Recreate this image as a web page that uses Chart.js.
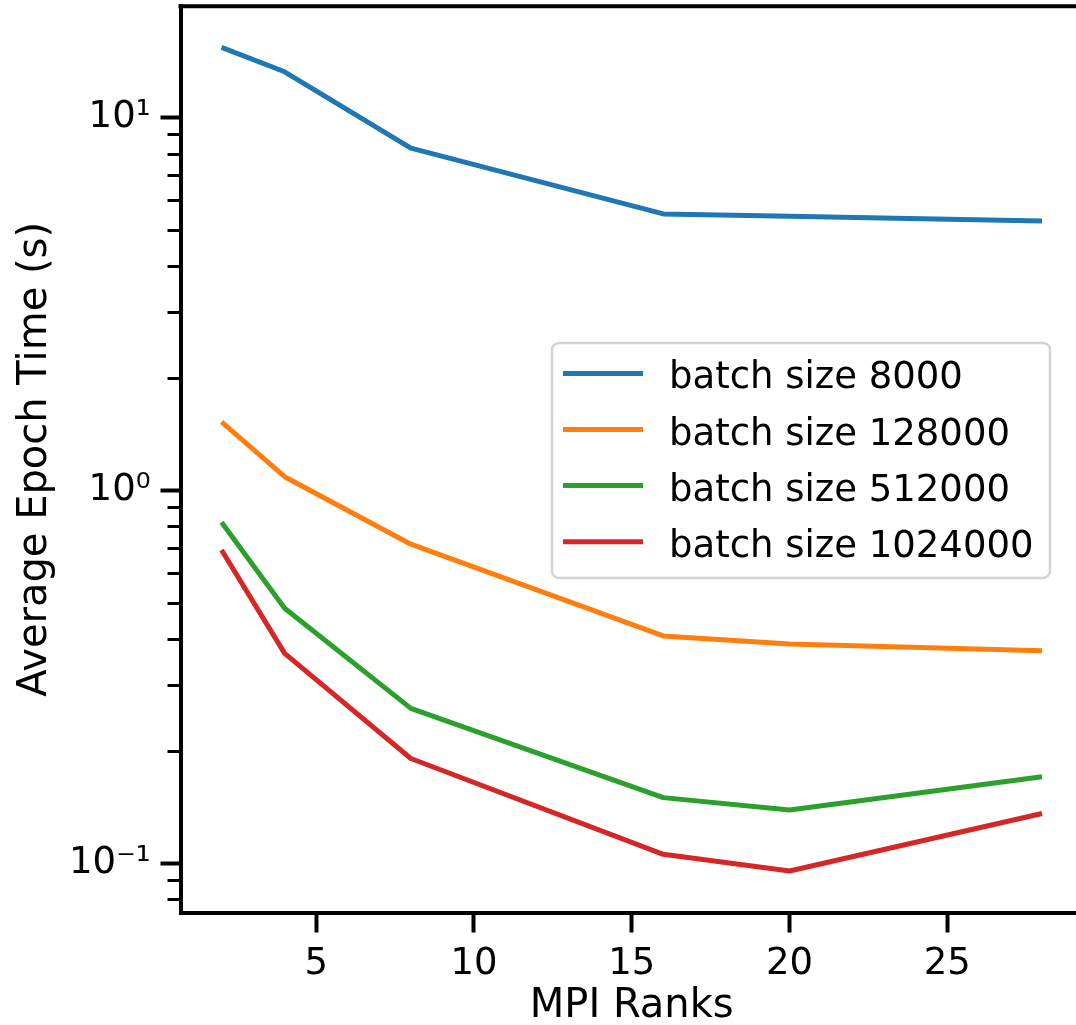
<!DOCTYPE html>
<html><head><meta charset="utf-8">
<script src="https://cdn.jsdelivr.net/npm/chart.js@4/dist/chart.umd.min.js"></script>
<style>
html,body{margin:0;padding:0;overflow:hidden;background:#fff;width:1076px;height:1025px}
#wrap{position:absolute;left:0;top:0;width:1100px;height:1025px}
</style></head><body>
<div id="wrap"><canvas id="c" width="1100" height="1025"></canvas></div>
<script>
// ---- data ----
const ranks = [2, 4, 8, 16, 20, 28];
const seriesLabels = ['batch size 8000', 'batch size 128000', 'batch size 512000', 'batch size 1024000'];
const bs8000    = [15.4, 13.25, 8.27, 5.51, 5.43, 5.27];
const bs128000  = [1.527, 1.088, 0.717, 0.407, 0.387, 0.3715];
const bs512000  = [0.821, 0.483, 0.2603, 0.150, 0.139, 0.1707];
const bs1024000 = [0.692, 0.3656, 0.191, 0.1057, 0.0954, 0.136];
const xTicks = [5, 10, 15, 20, 25];
const yTicks = [0.1, 1, 10];
const yTickLabels = ['10\u207B\u00B9', '10\u2070', '10\u00B9'];
const yMinorTicks = [0.08, 0.09, 0.2, 0.3, 0.4, 0.5, 0.6, 0.7, 0.8, 0.9, 2, 3, 4, 5, 6, 7, 8, 9];
const colors = ['#1f77b4', '#ff7f0e', '#2ca02c', '#d62728'];
const allSeries = [bs8000, bs128000, bs512000, bs1024000];

const FONT = 'DejaVu Sans';

const framePlugin = {
  id: 'frame',
  afterDraw(chart) {
    const {ctx, chartArea: a} = chart;
    const y = chart.scales.y;
    ctx.save();
    ctx.strokeStyle = '#000';
    ctx.lineWidth = 3;
    yMinorTicks.forEach(v => {
      if (v < y.min || v > y.max) return;
      const py = Math.round(y.getPixelForValue(v)) + 0.5;
      ctx.beginPath();
      ctx.moveTo(a.left - 13, py);
      ctx.lineTo(a.left, py);
      ctx.stroke();
    });
    ctx.lineWidth = 4;
    ctx.beginPath();
    ctx.moveTo(a.left - 2, a.top);
    ctx.lineTo(a.right + 2, a.top);
    ctx.moveTo(a.right, a.top);
    ctx.lineTo(a.right, a.bottom);
    ctx.stroke();
    ctx.restore();
  }
};

const legendPlugin = {
  id: 'boxLegend',
  afterDatasetsDraw(chart) {
    const {ctx, chartArea: a} = chart;
    const w = 498, h = 235;
    const x0 = a.right - 33 - w;
    const y0 = (a.top + a.bottom) / 2 + 1 - h / 2;
    ctx.save();
    ctx.fillStyle = 'rgba(255,255,255,0.8)';
    ctx.strokeStyle = '#d4d4d4';
    ctx.lineWidth = 2.5;
    ctx.beginPath();
    ctx.roundRect(x0, y0, w, h, 7);
    ctx.fill();
    ctx.stroke();
    ctx.font = '37px "' + FONT + '"';
    ctx.textBaseline = 'alphabetic';
    ctx.textAlign = 'left';
    chart.data.datasets.forEach((ds, i) => {
      const ly = y0 + 30.5 + i * 56.1;
      ctx.strokeStyle = ds.borderColor;
      ctx.lineWidth = 5;
      ctx.beginPath();
      ctx.moveTo(x0 + 11, ly);
      ctx.lineTo(x0 + 91, ly);
      ctx.stroke();
      ctx.fillStyle = '#000';
      ctx.fillText(ds.label, x0 + 117, ly + 15);
    });
    ctx.restore();
  }
};

new Chart(document.getElementById('c').getContext('2d'), {
  type: 'line',
  data: {
    datasets: allSeries.map((s, i) => ({
      label: seriesLabels[i],
      data: ranks.map((x, j) => ({x: x, y: s[j]})),
      borderColor: colors[i],
      backgroundColor: colors[i],
      borderWidth: 5,
      pointRadius: 0,
      tension: 0,
      fill: false,
      borderJoinStyle: 'round',
      borderCapStyle: 'butt'
    }))
  },
  options: {
    responsive: false,
    animation: false,
    devicePixelRatio: 1,
    layout: {padding: {top: 6.3, right: 17, left: 0, bottom: 0}},
    plugins: {legend: {display: false}, tooltip: {enabled: false}},
    scales: {
      x: {
        type: 'linear', min: 0.7, max: 29.3,
        afterBuildTicks: s => { s.ticks = xTicks.map(v => ({value: v})); },
        afterFit: s => { s.height = 112.5; s.paddingLeft = 0; s.paddingRight = 0; },
        grid: {drawOnChartArea: false, drawTicks: true, tickLength: 20, tickWidth: 4, tickColor: '#000'},
        border: {display: true, color: '#000', width: 4},
        ticks: {color: '#000', font: {family: FONT, size: 37}, padding: 10, maxRotation: 0, autoSkip: false,
                callback: v => String(v)},
        title: {display: true, text: 'MPI Ranks', color: '#000', font: {family: FONT, size: 40},
                padding: {top: 0, bottom: -6}}
      },
      y: {
        type: 'logarithmic', min: 0.07381, max: 19.85,
        afterBuildTicks: s => { s.ticks = yTicks.map(v => ({value: v, major: true})); },
        afterFit: s => { s.width = 180.5; s.paddingTop = 0; s.paddingBottom = 0; },
        grid: {drawOnChartArea: false, drawTicks: true, tickLength: 20, tickWidth: 4, tickColor: '#000'},
        border: {display: true, color: '#000', width: 4},
        ticks: {color: '#000', font: {family: FONT, size: 37}, padding: 10, autoSkip: false,
                callback: v => { const i = yTicks.indexOf(v); return i >= 0 ? yTickLabels[i] : ''; }},
        title: {display: true, text: 'Average Epoch Time (s)', color: '#000', font: {family: FONT, size: 40},
                padding: {top: 12, bottom: 0}}
      }
    }
  },
  plugins: [framePlugin, legendPlugin]
});
</script>
</body></html>
